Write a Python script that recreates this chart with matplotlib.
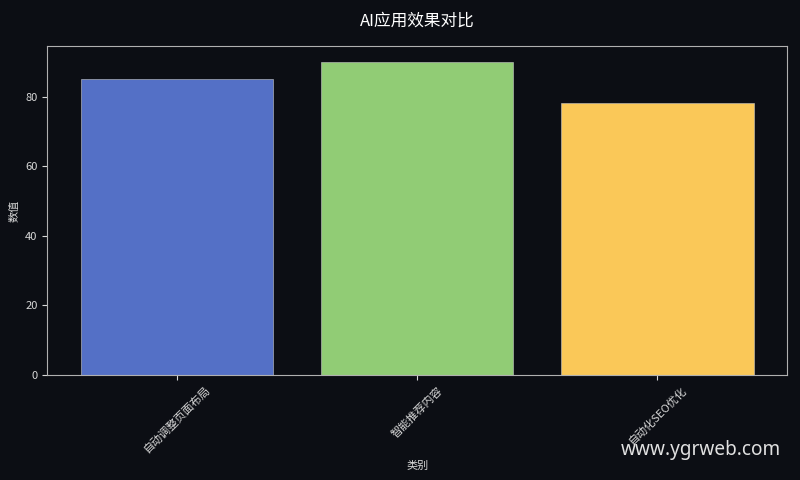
import matplotlib
matplotlib.use('Agg')
import matplotlib.pyplot as plt

plt.rcParams['font.family'] = ['Noto Sans CJK SC', 'DejaVu Sans']

categories = ['自动调整页面布局', '智能推荐内容', '自动化SEO优化']
values = [85, 90, 78]
colors = ['#5470c6', '#91cc75', '#fac858']

bg = '#0c0e14'
fg = '#d8d8d8'

fig, ax = plt.subplots(figsize=(8, 4.8), dpi=100)
fig.patch.set_facecolor(bg)
ax.set_facecolor(bg)

ax.bar(categories, values, color=colors, edgecolor='#c8c8c8', linewidth=0.4)

ax.set_title('AI应用效果对比', color='white', fontsize=12, pad=15)
ax.set_xlabel('类别', color=fg, fontsize=8)
ax.set_ylabel('数值', color=fg, fontsize=8)
ax.tick_params(colors=fg, labelsize=8)
plt.setp(ax.get_xticklabels(), rotation=45)
for s in ax.spines.values():
    s.set_color('#b0b0b0')

fig.subplots_adjust(left=0.059, right=0.984, top=0.904, bottom=0.219)
fig.text(0.976, 0.042, 'www.ygrweb.com', color='#e0e0e0', fontsize=13.7,
         ha='right', va='bottom', family=['Noto Sans'])

fig.savefig('out.png', facecolor=bg)
